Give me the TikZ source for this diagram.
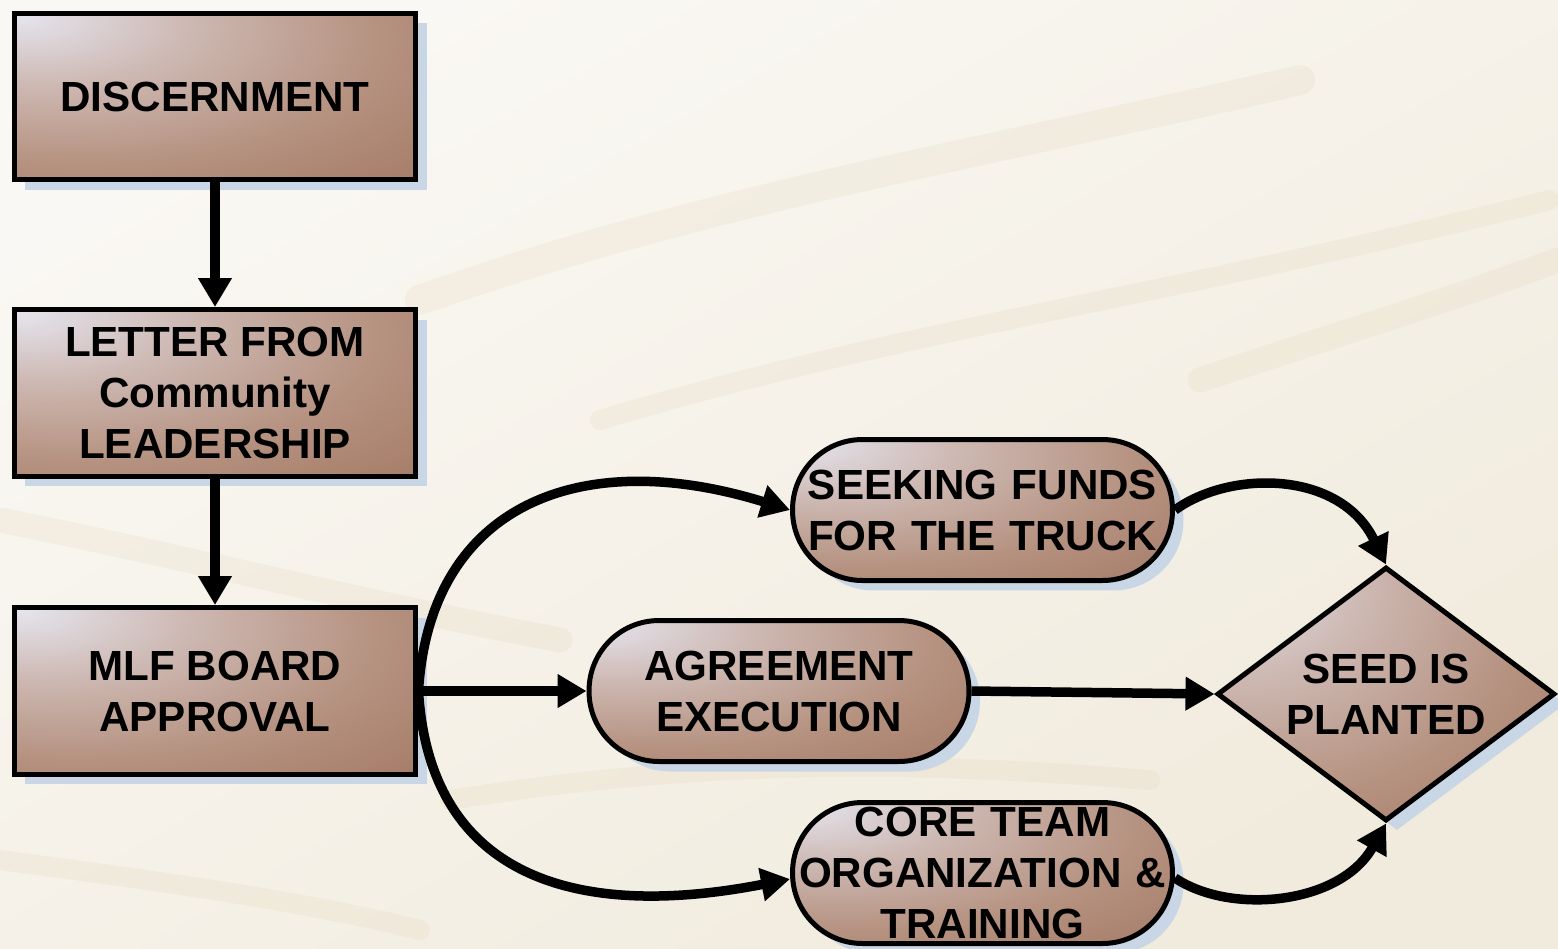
\documentclass[tikz,border=0pt]{standalone}
\usepackage{fontspec}
\setmainfont{Liberation Sans}
\usetikzlibrary{arrows.meta,shapes.geometric,shadows}
\definecolor{lite}{HTML}{E6E6F0}
\definecolor{lmid}{HTML}{CDB8B2}
\definecolor{midb}{HTML}{B5917F}
\definecolor{brn}{HTML}{A07460}
\definecolor{shad}{HTML}{C9D6E6}
\definecolor{bgc}{HTML}{F1EBDD}
\definecolor{bgl}{HTML}{FAF8F4}
\definecolor{streak}{HTML}{E2D5B8}
\pgfdeclareradialshading{boxshade}{\pgfpoint{-25bp}{25bp}}{%
  color(0bp)=(lite); color(18bp)=(lmid); color(38bp)=(midb); color(62bp)=(brn); color(120bp)=(brn)}
\begin{document}
\begin{tikzpicture}[x=0.02cm,y=-0.02cm,
 box/.style={draw=black, line width=0.1cm, shading=boxshade,
   drop shadow={shadow xshift=0.22cm, shadow yshift=-0.2cm, fill=shad, opacity=1},
   font=\fontsize{24}{29}\selectfont\bfseries, align=center, inner sep=0pt},
 rect/.style={box, rectangle, minimum width=8.04cm, minimum height=3.34cm},
 pill/.style={box, rectangle, rounded corners=1.4cm, minimum width=7.6cm, minimum height=2.82cm, text width=7.5cm},
 dia/.style={box, diamond, aspect=1.33, minimum width=6.76cm, minimum height=5.08cm},
 arr/.style={line width=0.19cm, -{Triangle[length=0.58cm,width=0.64cm]}}
]
\useasboundingbox (0,0) rectangle (1558,948);
% background
\shade[top color=bgl, bottom color=bgc, shading angle=30] (0,0) rectangle (1558,948);
\begin{scope}[opacity=0.22, line cap=round]
\draw[streak, line width=0.6cm] (420,300) .. controls (700,200) and (1000,150) .. (1300,80);
\draw[streak, line width=0.4cm] (600,420) .. controls (900,330) and (1150,300) .. (1550,200);
\draw[streak, line width=0.5cm] (0,520) .. controls (200,560) and (350,600) .. (560,640);
\draw[streak, line width=0.5cm] (1200,380) .. controls (1350,330) and (1450,300) .. (1558,260);
\draw[streak, line width=0.4cm] (450,800) .. controls (700,760) and (900,760) .. (1150,780);
\draw[streak, line width=0.4cm] (0,860) .. controls (150,880) and (300,900) .. (420,930);
\end{scope}
% nodes
\node[rect] (disc) at (215,96.5) {DISCERNMENT};
\node[rect] (letter) at (215,393) {LETTER FROM\\Community\\LEADERSHIP};
\node[rect] (mlf) at (215,691) {MLF BOARD\\APPROVAL};
\node[pill] (seek) at (982.5,510) {SEEKING FUNDS\\FOR THE TRUCK};
\node[pill] (agree) at (779,691) {AGREEMENT\\EXECUTION};
\node[pill] (core) at (982.5,873) {CORE TEAM\\ORGANIZATION \&\\TRAINING};
\node[dia] (seed) at (1386,694) {SEED IS\\PLANTED};
% connectors
\draw[arr] (disc) -- (letter);
\draw[arr] (letter) -- (mlf);
\draw[arr] (mlf.east) -- (agree.west);
\draw[arr] (mlf.east) .. controls (430,505) and (580,445) .. (seek.west);
\draw[arr] (mlf.east) .. controls (430,880) and (580,920) .. ([yshift=-0.12cm]core.west);
\draw[arr] (seek.east) .. controls (1230,470) and (1340,470) .. (seed.north);
\draw[arr] (agree.east) -- (seed.west);
\draw[arr] ([yshift=-0.1cm]core.east) .. controls (1230,915) and (1340,905) .. (seed.south);
\end{tikzpicture}
\end{document}
